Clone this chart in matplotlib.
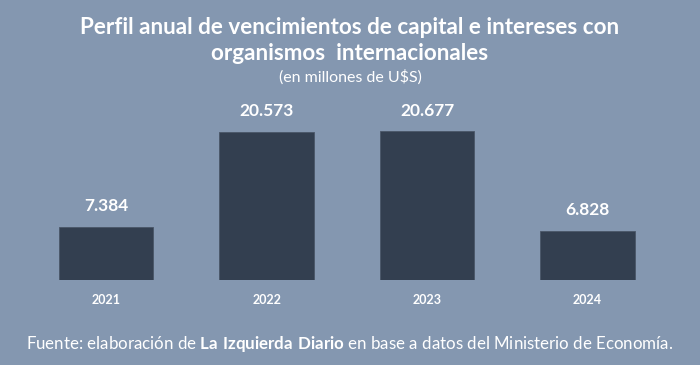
import matplotlib.pyplot as plt

years = ["2021", "2022", "2023", "2024"]
values = [7384, 20573, 20677, 6828]
value_labels = ["7.384", "20.573", "20.677", "6.828"]

bg = "#8497B0"
bar_color = "#333F50"

plt.rcParams['font.family'] = ['Lato', 'DejaVu Sans']
plt.rcParams['mathtext.fontset'] = 'custom'
plt.rcParams['mathtext.rm'] = 'Lato'
plt.rcParams['mathtext.bf'] = 'Lato:bold'

fig = plt.figure(figsize=(7, 3.65), dpi=100, facecolor=bg)
ax = fig.add_axes([0.037, 0.233, 0.917, 0.493])
ax.set_facecolor(bg)

x = range(len(years))
ax.bar(x, values, width=0.59, color=bar_color, edgecolor="#4a5668", linewidth=0.6)
for i, v in enumerate(values):
    ax.annotate(value_labels[i], (i, v), xytext=(0, 9), textcoords="offset points",
                ha="center", va="bottom", color="white", fontsize=12.5, fontweight="bold")

ax.set_xlim(-0.5, len(years) - 0.5)
ax.set_ylim(0, 25000)
ax.set_xticks(list(x))
ax.set_xticklabels(years, color="white", fontsize=9, fontweight="bold")
ax.tick_params(axis="x", length=0, pad=10)
ax.set_yticks([])
for s in ax.spines.values():
    s.set_visible(False)

# titles
fig.text(0.5, 0.924, "Perfil anual de vencimientos de capital e intereses con",
         ha="center", va="center", color="white", fontsize=16.2, fontweight="bold")
fig.text(0.5, 0.853, "organismos  internacionales",
         ha="center", va="center", color="white", fontsize=16.2, fontweight="bold")
fig.text(0.5, 0.79, "(en millones de U$S)",
         ha="center", va="center", color="white", fontsize=11.5)

# footer
fig.text(0.5, 0.058, "Fuente: elaboración de $\\bf{La\\ Izquierda\\ Diario}$ en base a datos del Ministerio de Economía.",
         ha="center", va="center", color="white", fontsize=12.2)

fig.savefig("out.png", dpi=100, facecolor=bg)
